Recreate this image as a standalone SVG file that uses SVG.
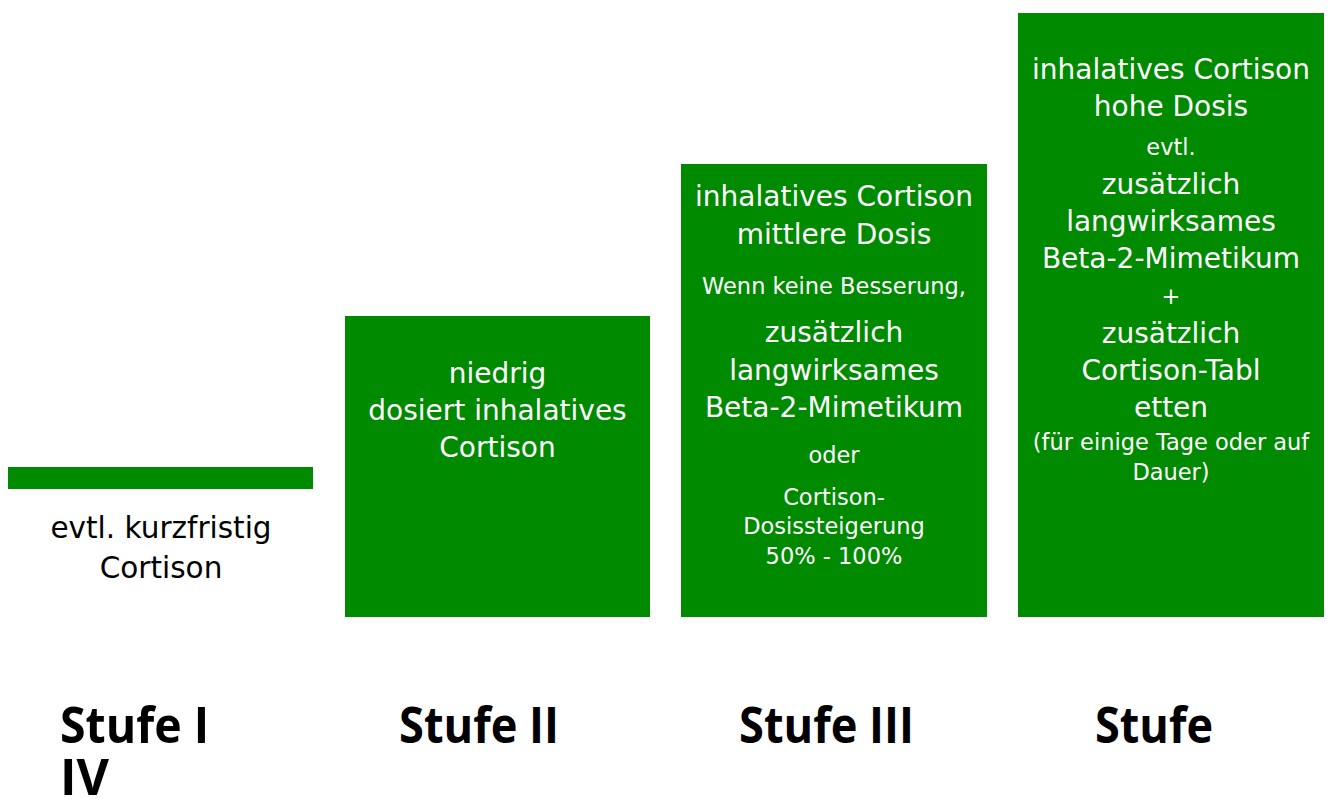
<svg xmlns="http://www.w3.org/2000/svg" width="1332" height="799" viewBox="0 0 1332 799">
<style>
.box{fill:#008a00}
.t{font-family:"DejaVu Sans",Verdana,sans-serif;text-anchor:middle}
.w{fill:#ffffff}
.k{fill:#000000}
.big{font-size:28px}
.lg{font-size:29.5px}
.sm{font-size:22.5px}
.h{font-family:"Open Sans","DejaVu Sans",sans-serif;font-weight:700;font-size:50px;fill:#000000}
</style>
<rect width="1332" height="799" fill="#ffffff"/>
<g id="stufe1">
<rect class="box" x="8" y="467" width="305" height="22"/>
<text class="t k lg" x="161" y="538">evtl. kurzfristig</text>
<text class="t k lg" x="161" y="578">Cortison</text>
</g>
<g id="stufe2">
<rect class="box" x="345" y="316" width="305" height="301"/>
<text class="t w big" x="497.5" y="383">niedrig</text>
<text class="t w big" x="497.5" y="420">dosiert inhalatives</text>
<text class="t w big" x="497.5" y="457">Cortison</text>
</g>
<g id="stufe3">
<rect class="box" x="681" y="164" width="306" height="453"/>
<text class="t w big" x="834" y="206">inhalatives Cortison</text>
<text class="t w big" x="834" y="244">mittlere Dosis</text>
<text class="t w sm" x="834" y="294">Wenn keine Besserung,</text>
<text class="t w big" x="834" y="342">zusätzlich</text>
<text class="t w big" x="834" y="380">langwirksames</text>
<text class="t w big" x="834" y="417">Beta-2-Mimetikum</text>
<text class="t w sm" x="834" y="463">oder</text>
<text class="t w sm" x="834" y="505">Cortison-</text>
<text class="t w sm" x="834" y="534">Dosissteigerung</text>
<text class="t w sm" x="834" y="564">50% - 100%</text>
</g>
<g id="stufe4">
<rect class="box" x="1018" y="13" width="306" height="604"/>
<text class="t w big" x="1171" y="79">inhalatives Cortison</text>
<text class="t w big" x="1171" y="116">hohe Dosis</text>
<text class="t w sm" x="1171" y="155">evtl.</text>
<text class="t w big" x="1171" y="194">zusätzlich</text>
<text class="t w big" x="1171" y="231">langwirksames</text>
<text class="t w big" x="1171" y="268">Beta-2-Mimetikum</text>
<text class="t w sm" x="1171" y="304">+</text>
<text class="t w big" x="1171" y="343">zusätzlich</text>
<text class="t w big" x="1171" y="380">Cortison-Tabl</text>
<text class="t w big" x="1171" y="417">etten</text>
<text class="t w sm" x="1171" y="450">(für einige Tage oder auf</text>
<text class="t w sm" x="1171" y="480">Dauer)</text>
</g>
<g id="labels">
<text class="h" x="60" y="743" textLength="149" lengthAdjust="spacingAndGlyphs">Stufe I</text>
<text class="h" x="60" y="795" textLength="49" lengthAdjust="spacingAndGlyphs">IV</text>
<text class="h" x="399" y="743" textLength="160" lengthAdjust="spacingAndGlyphs">Stufe II</text>
<text class="h" x="739" y="743" textLength="175" lengthAdjust="spacingAndGlyphs">Stufe III</text>
<text class="h" x="1095" y="743" textLength="118" lengthAdjust="spacingAndGlyphs">Stufe</text>
</g>
<g id="connectors"/>
</svg>
